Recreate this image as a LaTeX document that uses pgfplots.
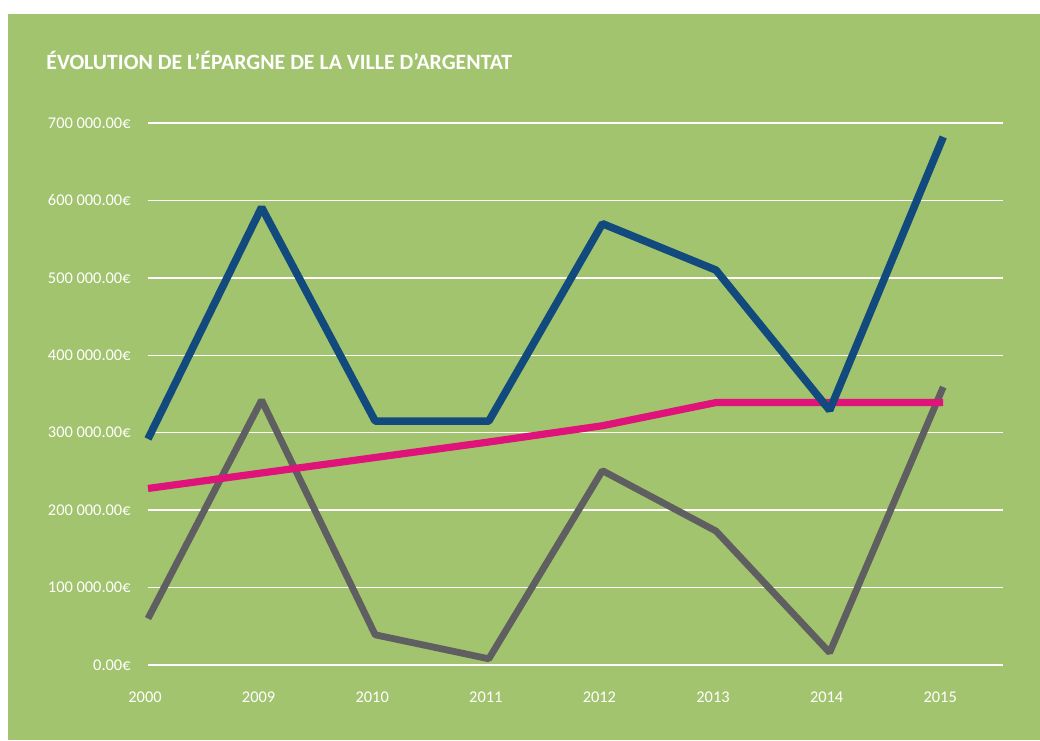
\documentclass[border=0pt]{standalone}
\usepackage{fontspec}
\setmainfont{Carlito}
\usepackage{pgfplots}
\pgfplotsset{compat=1.18}
\definecolor{bg}{HTML}{A3C46E}
\definecolor{cblue}{HTML}{134A7E}
\definecolor{cpink}{HTML}{E0137A}
\definecolor{cgray}{HTML}{5F5F61}
\begin{document}
\begin{tikzpicture}[x=1pt,y=1pt]
\fill[white] (0,0) rectangle (520,370);
\fill[bg] (4,0) rectangle (520,363);
\node[anchor=base west, inner sep=0pt, text=white, font=\fontsize{10.9}{13}\selectfont\bfseries] at (23,335.25) {ÉVOLUTION DE L’ÉPARGNE DE LA VILLE D’ARGENTAT};
\begin{axis}[at={(74pt,37.5pt)}, anchor=south west, scale only axis,
  width=427.5pt, height=271pt,
  xmin=0, xmax=7.526, ymin=0, ymax=700000, clip=false,
  axis line style={draw=none}, major tick length=0pt,
  ytick={0,100000,200000,300000,400000,500000,600000,700000},
  yticklabels={0.00€,100 000.00€,200 000.00€,300 000.00€,400 000.00€,500 000.00€,600 000.00€,700 000.00€},
  xtick={0,1,2,3,4,5,6,7},
  xticklabels={2000,2009,2010,2011,2012,2013,2014,2015},
  scaled y ticks=false,
  ymajorgrids, grid style={white, line width=0.75pt},
  tick label style={text=white, font=\fontsize{8.2}{10}\selectfont},
  yticklabel style={anchor=east, inner sep=0pt, xshift=-8.5pt},
  xticklabel style={anchor=north, inner sep=0pt, yshift=-13.3pt, xshift=-1.5pt},
]
\addplot[cgray, line width=3.4pt, line join=bevel, line cap=butt, mark=none] coordinates {
(0,60000) (1,342000) (2,39000) (3,8000) (4,251000) (5,173000) (6,16000) (7,359000)};
\addplot[cpink, line width=3.6pt, line join=bevel, line cap=butt, mark=none] coordinates {
(0,228000) (1,248000) (2,268000) (3,288000) (4,309000) (5,339000) (6,339000) (7,339000)};
\addplot[cblue, line width=3.8pt, line join=bevel, line cap=butt, mark=none] coordinates {
(0,292000) (1,591000) (2,315000) (3,315000) (4,570000) (5,510000) (6,329000) (7,682000)};
\end{axis}
\end{tikzpicture}
\end{document}
